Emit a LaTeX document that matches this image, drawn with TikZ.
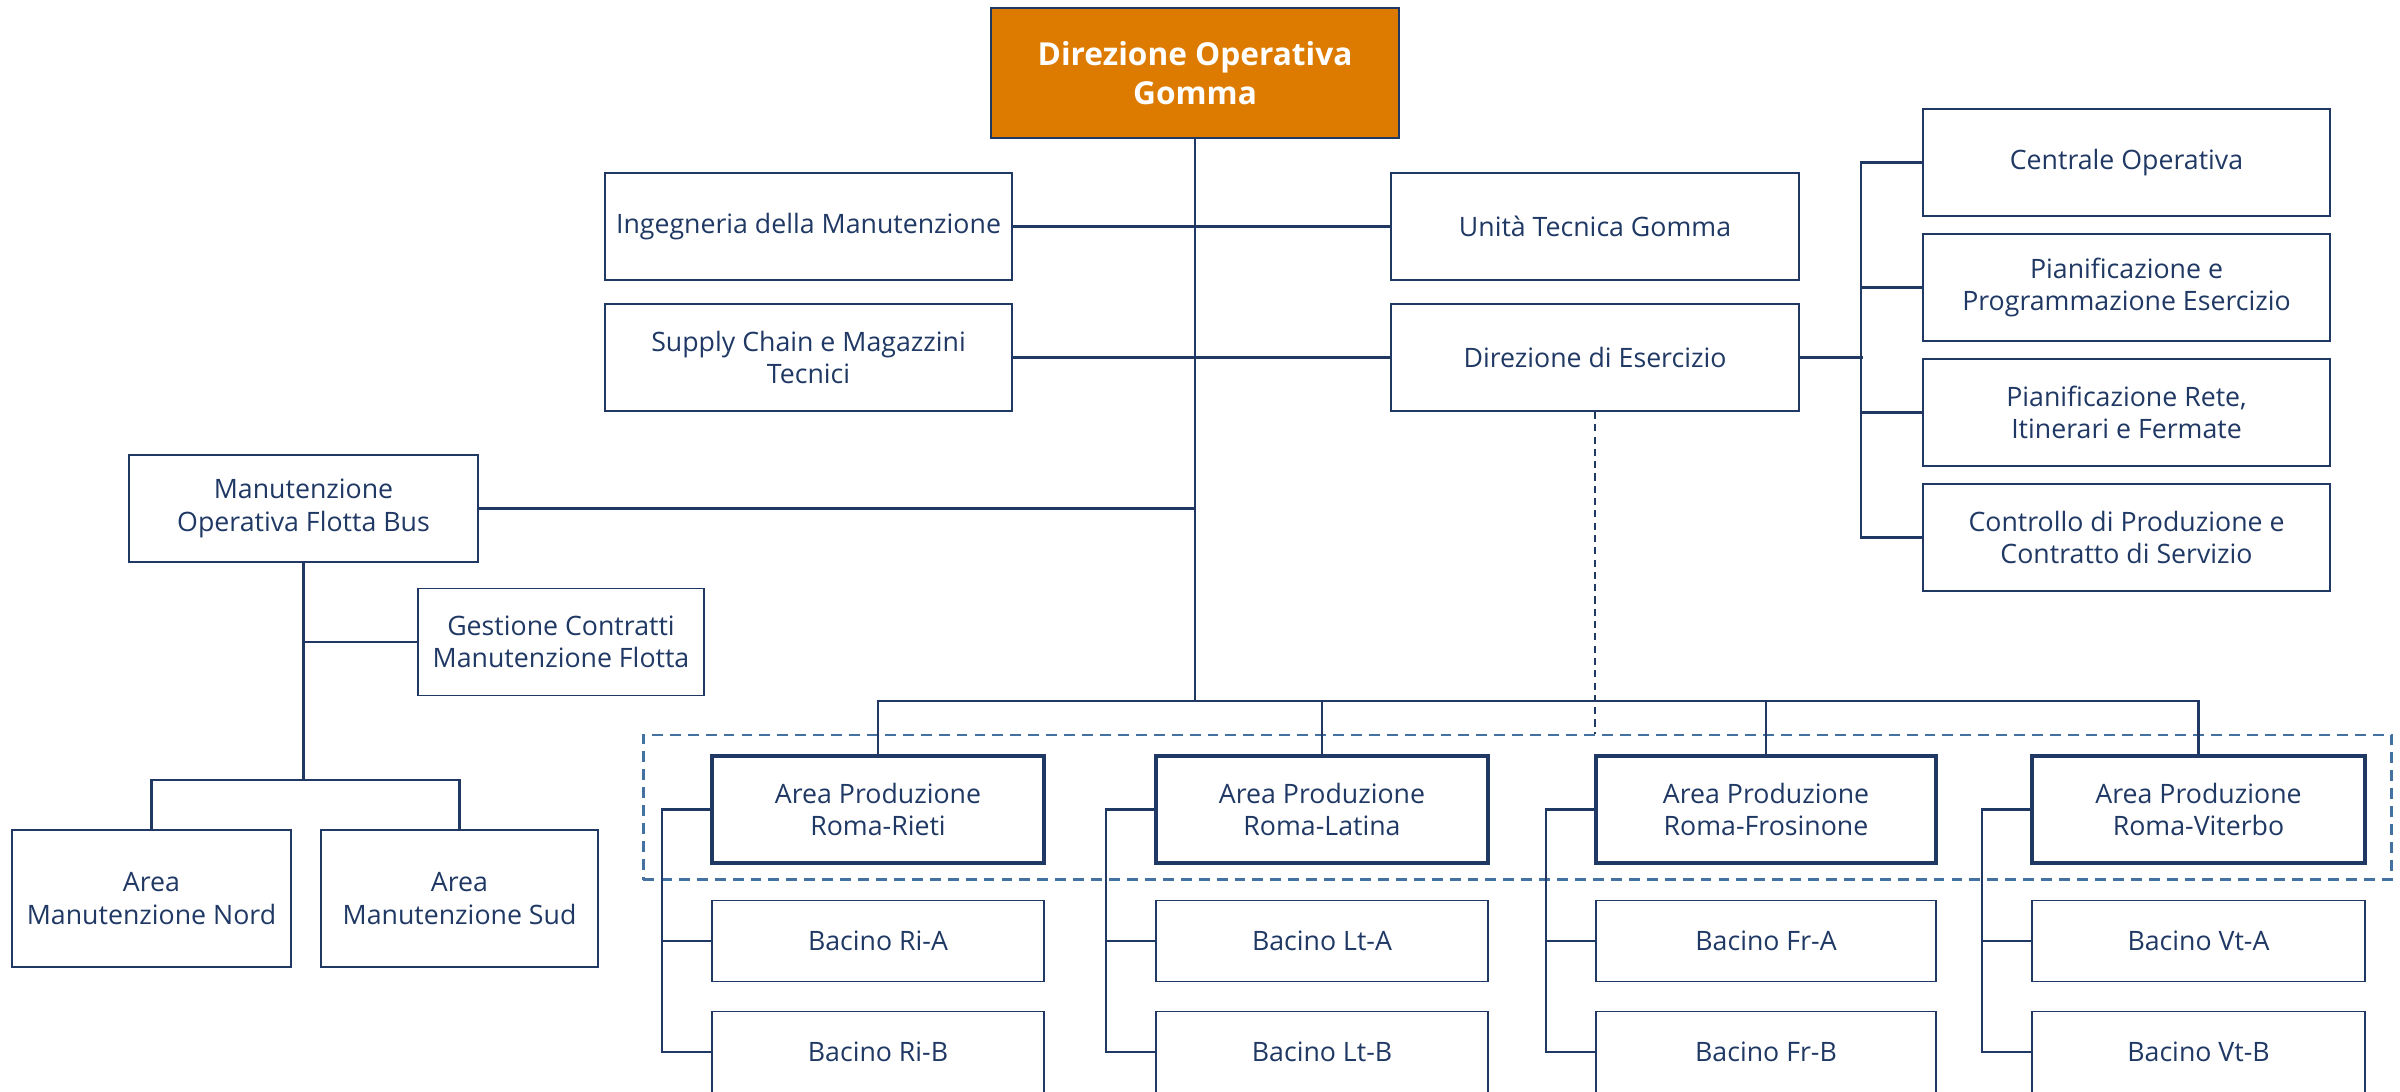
\documentclass[tikz,border=0pt]{standalone}
\usepackage{fontspec}
\setmainfont{Open Sans}
\definecolor{blu}{RGB}{31,56,100}
\definecolor{arancio}{RGB}{221,123,0}
\definecolor{azzurro}{RGB}{68,114,160}
\tikzset{
  casella/.style={draw=blu, line width=0.55pt, text=blu, align=center, inner sep=0pt,
    font=\fontsize{7.6}{9.2}\selectfont},
  area/.style={casella, line width=1pt},
  misura/.style 2 args={minimum width=#1cm, minimum height=#2cm},
  filo/.style={draw=blu, line width=0.6pt},
  cornice/.style={draw=azzurro, line width=0.85pt, dash pattern=on 3.1pt off 2pt},
  tratteggio/.style={draw=blu, line width=0.4pt, dash pattern=on 2pt off 1.5pt},
}
\begin{document}
\begin{tikzpicture}
  \useasboundingbox (0,0) rectangle (24,-10.92);
  %direzione
  \node[casella, fill=arancio, text=white, font=\fontsize{9}{11.2}\selectfont\bfseries,
    misura={4.08}{1.30}] (dog) at (11.95,-0.73) {Direzione Operativa\\Gomma};
  %staff
  \node[casella, misura={4.07}{1.07}] (ing) at (8.085,-2.265) {Ingegneria della Manutenzione};
  \node[casella, misura={4.07}{1.07}] (supply) at (8.085,-3.575) {Supply Chain e Magazzini\\Tecnici};
  \node[casella, misura={4.08}{1.07}] (utg) at (15.95,-2.265) {Unità Tecnica Gomma};
  \node[casella, misura={4.08}{1.07}] (dde) at (15.95,-3.575) {Direzione di Esercizio};
  %esercizio
  \node[casella, misura={4.07}{1.07}] (co) at (21.265,-1.625) {Centrale Operativa};
  \node[casella, misura={4.07}{1.07}] (pp) at (21.265,-2.875) {Pianificazione e\\Programmazione Esercizio};
  \node[casella, misura={4.07}{1.07}] (pr) at (21.265,-4.125) {Pianificazione Rete,\\Itinerari e Fermate};
  \node[casella, misura={4.07}{1.07}] (cp) at (21.265,-5.375) {Controllo di Produzione e\\Contratto di Servizio};
  %manutenzione
  \node[casella, misura={3.49}{1.07}] (mofb) at (3.035,-5.085) {Manutenzione\\Operativa Flotta Bus};
  \node[casella, misura={2.86}{1.07}] (gcmf) at (5.61,-6.42) {Gestione Contratti\\Manutenzione Flotta};
  \node[casella, misura={2.79}{1.37}] (amn) at (1.515,-8.985) {Area\\Manutenzione Nord};
  \node[casella, misura={2.77}{1.37}] (ams) at (4.595,-8.985) {Area\\Manutenzione Sud};
  %aree produzione
  \node[cornice, misura={17.48}{1.445}] (gruppo) at (15.17,-8.0725) {};
  \foreach \n/\x/\w/\nome/\s in {rieti/8.78/3.32/Rieti/Ri, latina/13.22/3.32/Latina/Lt,
      frosinone/17.66/3.40/Frosinone/Fr, viterbo/21.985/3.33/Viterbo/Vt}{
    \node[area, misura={\w}{1.07}] (\n) at (\x,-8.095) {Area Produzione\\Roma-\nome};
    \node[casella, misura={\w}{0.81}] (\n-a) at (\x,-9.41) {Bacino \s-A};
    \node[casella, misura={\w}{0.81}] (\n-b) at (\x,-10.52) {Bacino \s-B};
    \draw[filo] (\n.west) -- ++(-0.48,0) |- (\n-b.west);
    \draw[filo] (\n.west) ++(-0.48,0) |- (\n-a.west);
  }
  %linee
  \coordinate (bus) at (11.95,-7.01);
  \draw[filo] (dog.south) -- (bus);
  \draw[filo] (ing.east) -- (utg.west);
  \draw[filo] (supply.east) -- (dde.west);
  \draw[filo] (mofb.east) -- (mofb.east -| bus);
  \draw[filo] (rieti.north) |- (bus) -| (viterbo.north);
  \foreach \n in {latina,frosinone}
    \draw[filo] (\n.north) -- (\n.north |- bus);
  \draw[filo] (dde.east) -- ++(0.63,0);
  \draw[filo] (co.west) -- ++(-0.61,0) |- (cp.west);
  \foreach \n in {pp,pr}
    \draw[filo] (\n.west) -- ++(-0.61,0);
  \draw[filo] (mofb.south) -- ++(0,-2.17) coordinate (mb);
  \draw[filo] (amn.north) |- (mb) -| (ams.north);
  \draw[filo] (gcmf.west) -- (gcmf.west -| mb);
  \draw[tratteggio] (dde.south) -- (dde.south |- gruppo.north);
\end{tikzpicture}
\end{document}
